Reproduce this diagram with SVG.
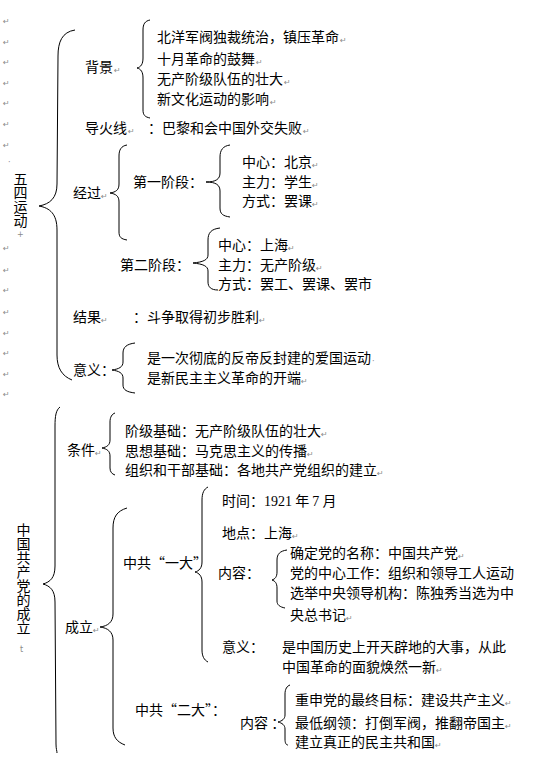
<svg xmlns="http://www.w3.org/2000/svg" width="534" height="772" viewBox="0 0 534 772">
<style>
  text { font-family: "Noto Sans CJK SC", "Noto Sans", sans-serif; font-size: 14px; fill: #000; }
  .num { font-family: "Liberation Serif", serif; }
  .vert { writing-mode: vertical-rl; }
  .pm { font-family: "DejaVu Sans", sans-serif; font-size: 8px; fill: #8a8a8a; }
  .br { fill: none; stroke: #000; stroke-width: 1; }
</style>
<rect width="534" height="772" fill="#fff"/>

<g id="margin-marks">
  <text class="pm" x="3" y="24">↵</text>
  <text class="pm" x="3" y="45">↵</text>
  <text class="pm" x="3" y="65">↵</text>
  <text class="pm" x="3" y="86">↵</text>
  <text class="pm" x="3" y="106">↵</text>
  <text class="pm" x="3" y="127">↵</text>
  <text class="pm" x="3" y="148">↵</text>
  <text class="pm" x="8" y="165">·</text>
  <text class="pm" x="3" y="251">↵</text>
  <text class="pm" x="3" y="273">↵</text>
  <text class="pm" x="3" y="293">↵</text>
  <text class="pm" x="3" y="315">↵</text>
  <text class="pm" x="3" y="336">↵</text>
  <text class="pm" x="3" y="356">↵</text>
  <text class="pm" x="3" y="377">↵</text>
  <text class="pm" x="3" y="397">↵</text>
  <text class="pm" x="17" y="237">+</text>
  <text class="pm" x="20" y="652">t</text>
</g>

<g id="connectors">
  <!-- 五四运动 -->
  <path class="br" d="M75,30 C62,32 58,42 58,56 L57,184 C57,198 50,204 39,206 C50,208 57,214 57,230 L57,355 C57,368 62,376 72,380"/>
  <!-- 背景 -->
  <path class="br" d="M150,20 C145,21 143,24 143,30 L143,58 C143,64 141,67 137,68 C141,69 143,72 143,78 L143,110 C143,115 145,117 150,118"/>
  <!-- 经过 -->
  <path class="br" d="M127,145 C121,146 119,150 119,156 L119,184 C119,190 116,192 110,193 C116,194 119,196 119,202 L119,232 C119,237 121,239 127,240"/>
  <!-- 第一阶段 -->
  <path class="br" d="M230,145 C223,146 220,150 220,157 L220,173 C220,179 216,182 206,182 C216,182 220,185 220,191 L220,208 C220,214 223,216 230,217"/>
  <!-- 第二阶段 -->
  <path class="br" d="M220,228 C211,229 208,233 208,240 L208,255 C208,260 203,262 193,263 C203,264 208,266 208,271 L208,282 C208,287 211,290 218,290"/>
  <!-- 意义 -->
  <path class="br" d="M135,343 C127,344 123,347 123,353 L123,362 C123,367 119,369 112,370 C119,371 123,373 123,378 L123,385 C123,390 127,392 135,393"/>
  <!-- 中国共产党的成立 -->
  <path class="br" d="M60,407 C56,410 55,416 55,426 L55,566 C55,578 50,582 43,584 C50,586 55,590 55,602 L56,744 C56,749 57,751 57,753"/>
  <!-- 条件 -->
  <path class="br" d="M115,413 C112,414 110,417 110,422 L110,440 C110,445 107,447 102,448 C107,449 110,451 110,456 L110,468 C110,472 112,474 115,475"/>
  <!-- 中共一大 -->
  <path class="br" d="M208,487 C204,489 202,493 202,500 L202,562 C202,568 199,571 195,572 C199,573 202,576 202,582 L202,650 C202,656 204,660 208,662"/>
  <!-- 成立 -->
  <path class="br" d="M127,508 C117,511 113,517 113,528 L113,614 C113,622 108,626 100,627 C108,628 113,632 113,640 L113,728 C113,737 117,742 125,745"/>
  <!-- 内容 一大 -->
  <path class="br" d="M287,550 C280,551 277,554 277,560 L277,572 C277,577 275,579 272,580 C275,581 277,583 277,588 L277,601 C277,605 280,607 285,608"/>
  <!-- 内容 二大 -->
  <path class="br" d="M290,685 C287,686 285,689 285,694 L285,715 C285,719 282,721 278,722 C282,723 285,725 285,729 L285,739 C285,743 286,745 288,745"/>
</g>

<g id="n-wusi">
  <text class="vert" x="20.5" y="172">五四运动</text>
</g>

<g id="n-beijing">
  <text x="85" y="72">背景</text><text class="pm" x="114" y="73">↵</text>
  <text x="157" y="42">北洋军阀独裁统治，镇压革命</text><text class="pm" x="340" y="43">↵</text>
  <text x="157" y="64">十月革命的鼓舞</text><text class="pm" x="256" y="65">↵</text>
  <text x="157" y="84">无产阶级队伍的壮大</text><text class="pm" x="284" y="85">↵</text>
  <text x="157" y="104">新文化运动的影响</text><text class="pm" x="270" y="105">↵</text>
</g>

<g id="n-daohuoxian">
  <text x="85" y="133">导火线</text><text class="pm" x="128" y="134">↵</text>
  <text x="148" y="133">：巴黎和会中国外交失败</text><text class="pm" x="303" y="134">↵</text>
</g>

<g id="n-jingguo">
  <text x="73" y="198">经过</text><text class="pm" x="101" y="199">↵</text>
  <text x="133" y="187">第一阶段：</text>
  <text x="242" y="167">中心：北京</text><text class="pm" x="312" y="168">↵</text>
  <text x="242" y="187">主力：学生</text><text class="pm" x="312" y="188">↵</text>
  <text x="242" y="206">方式：罢课</text><text class="pm" x="312" y="207">↵</text>
  <text x="120" y="270">第二阶段：</text>
  <text x="218" y="250">中心：上海</text><text class="pm" x="288" y="251">↵</text>
  <text x="218" y="270">主力：无产阶级</text><text class="pm" x="316" y="271">↵</text>
  <text x="218" y="289">方式：罢工、罢课、罢市</text>
</g>

<g id="n-jieguo">
  <text x="73" y="322">结果</text><text class="pm" x="101" y="323">↵</text>
  <text x="133" y="322">：斗争取得初步胜利</text><text class="pm" x="259" y="323">↵</text>
</g>

<g id="n-yiyi1">
  <text x="73" y="375">意义：</text>
  <text x="147" y="363">是一次彻底的反帝反封建的爱国运动</text><text class="pm" x="372" y="364">·</text>
  <text x="147" y="383">是新民主主义革命的开端</text><text class="pm" x="301" y="384">↵</text>
</g>

<g id="n-zgcd">
  <text class="vert" x="23.5" y="523">中国共产党的成立</text>
</g>

<g id="n-tiaojian">
  <text x="67" y="455">条件</text><text class="pm" x="95" y="456">↵</text>
  <text x="125" y="436">阶级基础：无产阶级队伍的壮大</text><text class="pm" x="321" y="437">↵</text>
  <text x="125" y="456">思想基础：马克思主义的传播</text><text class="pm" x="307" y="457">↵</text>
  <text x="125" y="475">组织和干部基础：各地共产党组织的建立</text><text class="pm" x="377" y="476">↵</text>
</g>

<g id="n-chengli">
  <text x="65" y="632">成立</text><text class="pm" x="93" y="633">↵</text>
</g>

<g id="n-yida">
  <text x="123" y="568">中共“一大”</text>
  <text x="222" y="506">时间：<tspan class="num">1921</tspan> 年 <tspan class="num">7</tspan> 月</text>
  <text x="222" y="538">地点：上海</text><text class="pm" x="292" y="539">↵</text>
  <text x="218" y="578">内容：</text>
  <text x="290" y="558">确定党的名称：中国共产党</text><text class="pm" x="458" y="559">↵</text>
  <text x="290" y="578">党的中心工作：组织和领导工人运动</text>
  <text x="290" y="598">选举中央领导机构：陈独秀当选为中</text>
  <text x="290" y="620">央总书记</text><text class="pm" x="346" y="621">↵</text>
  <text x="222" y="652">意义：</text>
  <text x="282" y="652">是中国历史上开天辟地的大事，从此</text>
  <text x="282" y="672">中国革命的面貌焕然一新</text><text class="pm" x="436" y="673">↵</text>
</g>

<g id="n-erda">
  <text x="135" y="715">中共“二大”：</text>
  <text x="240" y="728">内容 ：</text>
  <text x="295" y="705">重申党的最终目标：建设共产主义</text><text class="pm" x="505" y="706">↵</text>
  <text x="295" y="728">最低纲领：打倒军阀，推翻帝国主</text><text class="pm" x="505" y="729">↵</text>
  <text x="295" y="747">建立真正的民主共和国</text><text class="pm" x="435" y="748">↵</text>
</g>
</svg>
